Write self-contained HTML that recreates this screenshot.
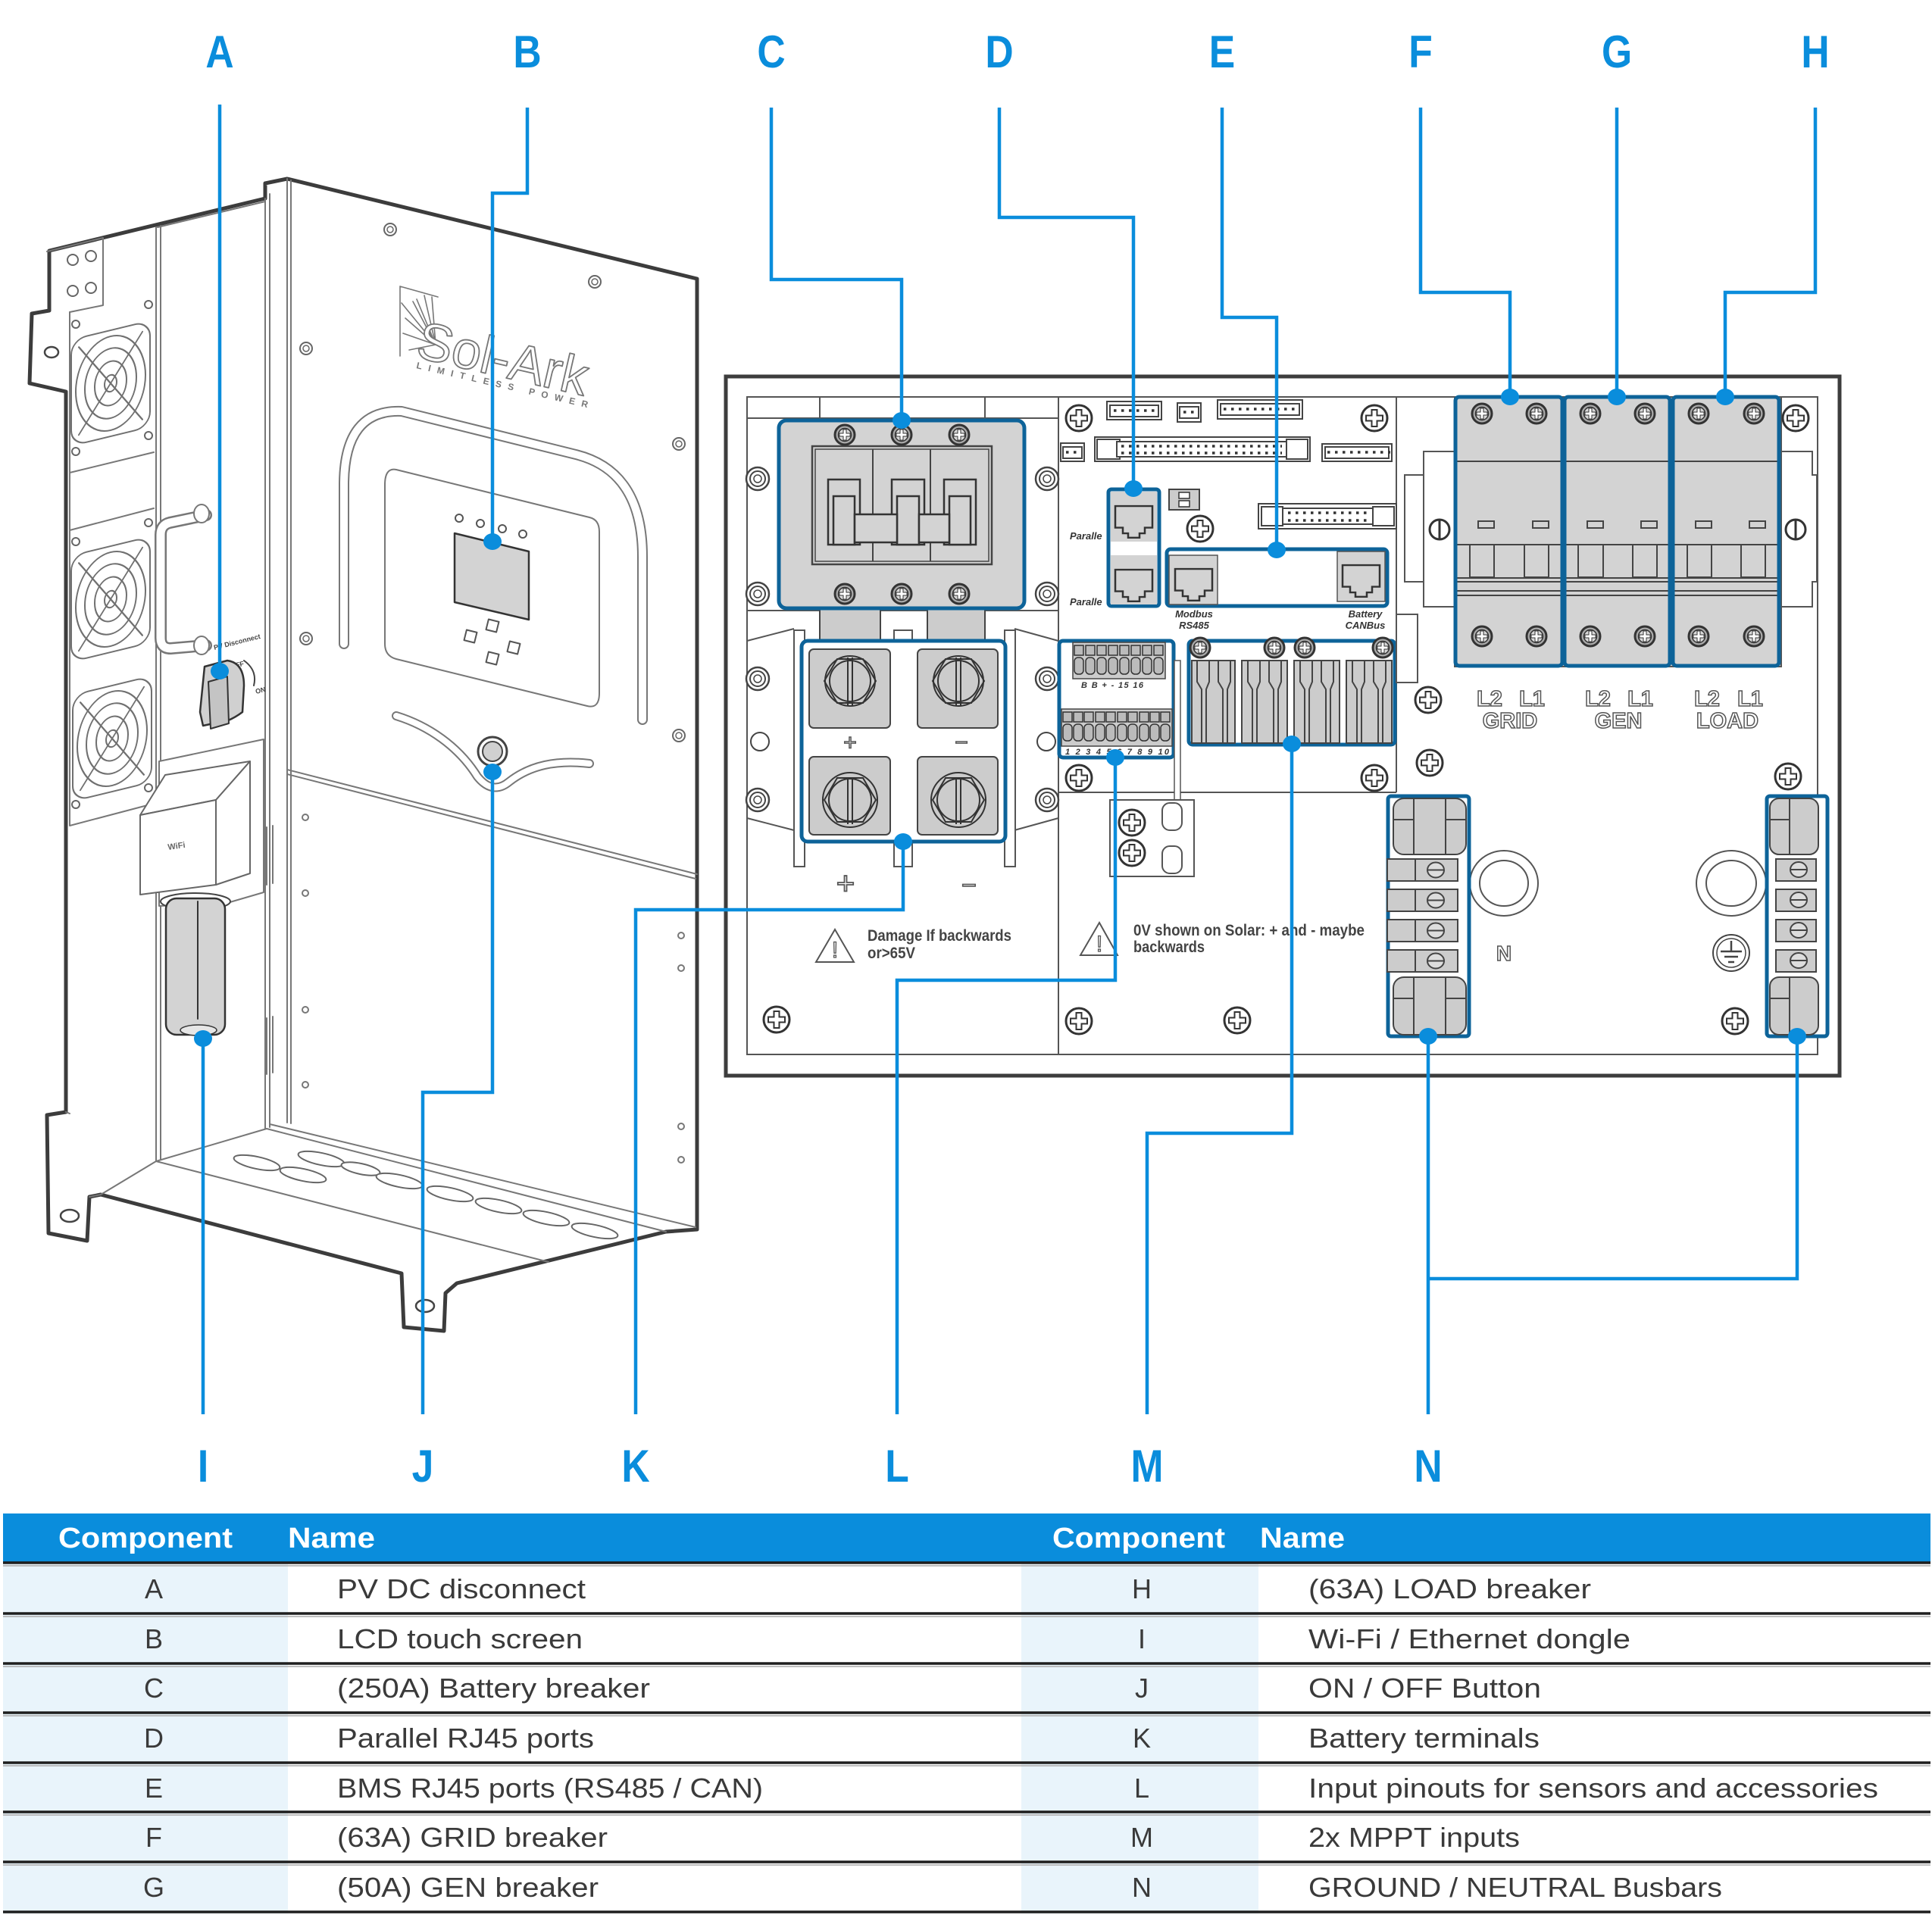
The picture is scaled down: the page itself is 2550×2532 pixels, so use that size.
<!DOCTYPE html>
<html><head><meta charset="utf-8"><style>
html,body{margin:0;padding:0;background:#fff}
svg{display:block}
text{font-family:"Liberation Sans",sans-serif}
</style></head><body>
<svg xmlns="http://www.w3.org/2000/svg" xmlns:xlink="http://www.w3.org/1999/xlink" width="2550" height="2532" viewBox="0 0 2550 2532">
<defs>
<g id="sc"><circle r="17" fill="#fff" stroke="#333" stroke-width="3"/><path d="M-3.5,-11h7v7.5h7.5v7h-7.5v7.5h-7v-7.5h-7.5v-7h7.5z" fill="#fff" stroke="#333" stroke-width="2"/></g>
<g id="bs"><circle r="13" fill="#aaa" stroke="#333" stroke-width="3"/><circle r="8.5" fill="#d8d8d8" stroke="#333" stroke-width="1.5"/><path d="M-2,-7h4v5h5v4h-5v5h-4v-5h-5v-4h5z" fill="#fff" stroke="#333" stroke-width="1"/></g>
<g id="nut"><circle r="15" fill="#fff" stroke="#444" stroke-width="2.5"/><circle r="10" fill="#fff" stroke="#444" stroke-width="2"/><circle r="5" fill="none" stroke="#444" stroke-width="1.5"/></g>
<g id="spot"><circle r="8" fill="#fff" stroke="#666" stroke-width="2"/><circle r="4" fill="none" stroke="#666" stroke-width="1.5"/></g>
<path id="rj" d="M6,20 H55 V50 H45 V58 H38 V64 H23 V58 H16 V50 H6 Z" fill="none" stroke="#333" stroke-width="2.5"/>
<g id="fan" fill="none" stroke="#707070" stroke-width="2">
 <rect x="-52" y="-70" width="104" height="140" rx="20"/>
 <ellipse rx="46" ry="62"/><ellipse rx="34" ry="46"/><ellipse rx="21" ry="29"/><ellipse rx="8" ry="11"/>
 <path d="M-42,-58 L42,58 M42,-58 L-42,58"/>
</g>
<g id="term">
 <rect x="0" y="0" width="43" height="29" fill="#ccc" stroke="#444" stroke-width="2"/>
 <rect x="37" y="0" width="56" height="29" fill="#ccc" stroke="#444" stroke-width="2"/>
 <ellipse cx="64" cy="14.5" rx="11" ry="10" fill="#ddd" stroke="#444" stroke-width="2"/>
 <path d="M53,14.5 H75" stroke="#444" stroke-width="2"/>
</g>
</defs>
<rect width="2550" height="2532" fill="#fff"/>

<!-- ================= INVERTER ================= -->
<g stroke-linejoin="round" stroke-linecap="round">
<path d="M379,236 L920,368 L920,1623 L879,1626 L603,1694 L588,1707 L586,1757 L533,1752 L530,1681 L133,1577 L118,1580 L115,1638 L64,1628 L62,1472 L87,1468 L87,517 L39,506 L42,414 L65,410 L65,331 L350,262 L350,242 Z" fill="#fff" stroke="#3c3c3c" stroke-width="5"/>
<g fill="none" stroke="#777" stroke-width="2">
 <path d="M379,236 L379,1482 M384,238 L384,1483 M350,262 L350,1490 M356,256 L356,1488"/>
 <path d="M379,1016 L920,1154 M379,1022 L918,1160"/>
 <path d="M352,1490 L879,1626 M356,1484 L918,1620"/>
 <path d="M206,1533 L724,1666 M133,1577 L206,1533 L352,1490"/>
 <path d="M206,300 L206,1533 M212,298 L212,1531 M208,300 L350,266"/>
 <path d="M92,412 L92,1090 L206,1060"/>
 <path d="M62,332 L136,314 L136,403 L92,412"/>
 <path d="M92,624 L203,597 M92,700 L203,671"/>
 <path d="M87,1468 L92,1470 M118,1580 L133,1577"/>
 <path d="M352,1092 V1168 M360,1090 V1166 M352,1344 V1418 M360,1342 V1416"/>
</g>
<!-- top small screws -->
<g fill="#fff" stroke="#666" stroke-width="2">
 <circle cx="96" cy="343" r="7"/><circle cx="120" cy="338" r="7"/><circle cx="96" cy="384" r="7"/><circle cx="120" cy="380" r="7"/>
</g>
<ellipse cx="68" cy="465" rx="9" ry="7" fill="#fff" stroke="#444" stroke-width="2.5"/>
<ellipse cx="92" cy="1605" rx="12" ry="8" fill="#fff" stroke="#444" stroke-width="2.5"/>
<ellipse cx="561" cy="1724" rx="12" ry="8" fill="#fff" stroke="#444" stroke-width="2.5"/>
<!-- fans -->
<use xlink:href="#fan" transform="translate(146,506) skewY(-13.6)"/>
<use xlink:href="#fan" transform="translate(146,791) skewY(-13.6)"/>
<use xlink:href="#fan" transform="translate(148,975) skewY(-13.6)"/>
<g fill="#fff" stroke="#666" stroke-width="2">
 <circle cx="100" cy="428" r="5"/><circle cx="196" cy="402" r="5"/><circle cx="100" cy="596" r="5"/><circle cx="196" cy="575" r="5"/>
 <circle cx="100" cy="715" r="5"/><circle cx="196" cy="690" r="5"/><circle cx="100" cy="1062" r="5"/><circle cx="196" cy="1040" r="5"/>
</g>
<!-- handle -->
<path d="M272,680 L224,690 Q212,693 212,706 L212,842 Q212,856 225,856 L272,852" fill="none" stroke="#777" stroke-width="16"/>
<path d="M272,680 L224,690 Q212,693 212,706 L212,842 Q212,856 225,856 L272,852" fill="none" stroke="#fff" stroke-width="11"/>
<ellipse cx="266" cy="678" rx="10" ry="12" fill="#fff" stroke="#777" stroke-width="2"/>
<ellipse cx="266" cy="852" rx="10" ry="12" fill="#fff" stroke="#777" stroke-width="2"/>
<!-- PV disconnect -->
<text x="0" y="0" font-size="9" font-weight="bold" fill="#444" transform="translate(283,858) rotate(-14)">PV Disconnect</text>
<text x="0" y="0" font-size="9" font-weight="bold" fill="#444" transform="translate(305,883) rotate(-14)">OFF</text>
<text x="0" y="0" font-size="9" font-weight="bold" fill="#444" transform="translate(338,916) rotate(-14)">ON</text>
<path d="M322,872 Q340,885 335,905" fill="none" stroke="#444" stroke-width="2"/>
<path d="M270,880 L300,872 Q322,875 322,905 L320,940 Q300,955 282,955 L268,958 L264,940 Z" fill="#d0d0d0" stroke="#333" stroke-width="2.5"/>
<path d="M275,900 L300,893 L302,955 L278,962 Z" fill="#c4c4c4" stroke="#333" stroke-width="2"/>
<!-- WiFi box -->
<path d="M210,1005 L348,976 L348,1178 L300,1192 L210,1196 Z" fill="#fff" stroke="#777" stroke-width="2"/>
<path d="M185,1076 L218,1023 L330,1005 L285,1056 Z" fill="#fff" stroke="#666" stroke-width="2"/>
<path d="M285,1056 L330,1005 L330,1153 L285,1168 Z" fill="#fff" stroke="#666" stroke-width="2"/>
<path d="M185,1076 L285,1056 L285,1168 L185,1181 Z" fill="#fff" stroke="#666" stroke-width="2"/>
<text x="0" y="0" font-size="11" font-weight="bold" fill="#666" transform="translate(222,1122) rotate(-8)">WiFi</text>
<ellipse cx="258" cy="1190" rx="46" ry="11" fill="#fff" stroke="#444" stroke-width="2"/>
<rect x="219" y="1186" width="78" height="180" rx="14" fill="#d3d3d3" stroke="#333" stroke-width="2.5"/>
<path d="M261,1190 V1345" stroke="#333" stroke-width="2"/>
<ellipse cx="262" cy="1360" rx="24" ry="7" fill="#e6e6e6" stroke="#333" stroke-width="1.5"/>
<!-- front face screws -->
<use xlink:href="#spot" x="515" y="303"/><use xlink:href="#spot" x="785" y="372"/>
<use xlink:href="#spot" x="404" y="460"/><use xlink:href="#spot" x="896" y="586"/>
<use xlink:href="#spot" x="404" y="843"/><use xlink:href="#spot" x="896" y="971"/>
<g fill="#fff" stroke="#777" stroke-width="2">
 <circle cx="403" cy="1079" r="4"/><circle cx="403" cy="1179" r="4"/><circle cx="403" cy="1333" r="4"/><circle cx="403" cy="1432" r="4"/>
 <circle cx="899" cy="1235" r="4"/><circle cx="899" cy="1278" r="4"/><circle cx="899" cy="1487" r="4"/><circle cx="899" cy="1531" r="4"/>
</g>
<!-- logo -->
<g stroke="#777" stroke-width="1.6" fill="none">
 <path d="M528,378 L528,470 M528,378 L578,392 M575,455 L530,400 M575,455 L535,420 M575,455 L532,440 M575,455 L540,462 M575,455 L550,395 M575,455 L560,390 M575,455 L570,392 M575,455 L545,398"/>
</g>
<text x="0" y="0" font-size="70" fill="#fff" stroke="#777" stroke-width="1.8" transform="translate(547,471) rotate(13)" textLength="229" lengthAdjust="spacingAndGlyphs">Sol-Ark</text>
<text x="0" y="0" font-size="12" font-weight="bold" fill="#777" transform="translate(549,486) rotate(13)" textLength="232" lengthAdjust="spacing">LIMITLESS POWER</text>
<!-- bezel -->
<path d="M454,850 L454,640 Q454,540 530,543 L760,600 Q848,622 848,735 L848,950" fill="none" stroke="#777" stroke-width="14"/>
<path d="M454,850 L454,640 Q454,540 530,543 L760,600 Q848,622 848,735 L848,950" fill="none" stroke="#fff" stroke-width="10"/>
<path d="M523,620 L778,683 Q791,686 791,702 L791,915 Q791,936 775,932 L523,870 Q508,866 508,850 L508,640 Q508,617 523,620 Z" fill="#fff" stroke="#777" stroke-width="2"/>
<path d="M600,704 L698,728 L698,818 L600,795 Z" fill="#d3d3d3" stroke="#333" stroke-width="2.5"/>
<g fill="#fff" stroke="#555" stroke-width="2">
 <circle cx="606" cy="684" r="5"/><circle cx="634" cy="691" r="5"/><circle cx="663" cy="698" r="5"/><circle cx="690" cy="705" r="5"/>
 <rect x="614" y="833" width="14" height="14" transform="rotate(14 621 840)"/>
 <rect x="643" y="819" width="14" height="14" transform="rotate(14 650 826)"/>
 <rect x="671" y="848" width="14" height="14" transform="rotate(14 678 855)"/>
 <rect x="643" y="862" width="14" height="14" transform="rotate(14 650 869)"/>
</g>
<!-- wave + button -->
<path d="M523,945 C565,958 605,985 630,1025 Q650,1050 672,1032 C700,1010 735,1003 778,1008" fill="none" stroke="#777" stroke-width="12"/>
<path d="M523,945 C565,958 605,985 630,1025 Q650,1050 672,1032 C700,1010 735,1003 778,1008" fill="none" stroke="#fff" stroke-width="8"/>
<circle cx="650" cy="992" r="19" fill="#fff" stroke="#444" stroke-width="3"/>
<circle cx="650" cy="992" r="13" fill="#d0d0d0" stroke="#444" stroke-width="2"/>
<!-- tray holes -->
<g fill="#fff" stroke="#666" stroke-width="2">
 <ellipse cx="339" cy="1535" rx="31" ry="8" transform="rotate(12 339 1535)"/>
 <ellipse cx="424" cy="1530" rx="31" ry="8" transform="rotate(12 424 1530)"/>
 <ellipse cx="400" cy="1551" rx="31" ry="8" transform="rotate(12 400 1551)"/>
 <ellipse cx="476" cy="1543" rx="26" ry="7" transform="rotate(12 476 1543)"/>
 <ellipse cx="527" cy="1559" rx="31" ry="8" transform="rotate(12 527 1559)"/>
 <ellipse cx="594" cy="1576" rx="31" ry="8" transform="rotate(12 594 1576)"/>
 <ellipse cx="658" cy="1592" rx="31" ry="8" transform="rotate(12 658 1592)"/>
 <ellipse cx="721" cy="1608" rx="31" ry="8" transform="rotate(12 721 1608)"/>
 <ellipse cx="785" cy="1625" rx="31" ry="8" transform="rotate(12 785 1625)"/>
</g>
</g>

<!-- ================= PANEL ================= -->
<rect x="958" y="497" width="1470" height="923" fill="#fff" stroke="#3d3d3d" stroke-width="5"/>
<rect x="986" y="524" width="1413" height="868" fill="none" stroke="#555" stroke-width="2"/>
<path d="M1397,524 V1392 M1843,524 V1046 M1397,1046 H1843 M986,552 H1397 M986,806 H1397" stroke="#555" stroke-width="2" fill="none"/>
<rect x="1082" y="524" width="218" height="28" fill="#fff" stroke="#555" stroke-width="2"/>

<!-- left section -->
<use xlink:href="#nut" x="1000" y="632"/><use xlink:href="#nut" x="1000" y="784"/>
<use xlink:href="#nut" x="1000" y="896"/><use xlink:href="#nut" x="1000" y="1056"/>
<use xlink:href="#nut" x="1382" y="632"/><use xlink:href="#nut" x="1382" y="784"/>
<use xlink:href="#nut" x="1382" y="896"/><use xlink:href="#nut" x="1382" y="1056"/>
<circle cx="1003" cy="979" r="12" fill="#fff" stroke="#444" stroke-width="2"/>
<circle cx="1381" cy="979" r="12" fill="#fff" stroke="#444" stroke-width="2"/>
<path d="M986,846 L1048,830 M1339,830 L1397,846 M986,1080 L1048,1096 M1339,1096 L1397,1080" stroke="#555" stroke-width="2" fill="none"/>
<rect x="1048" y="832" width="14" height="312" fill="#fff" stroke="#555" stroke-width="2"/>
<rect x="1326" y="832" width="14" height="312" fill="#fff" stroke="#555" stroke-width="2"/>
<rect x="1180" y="832" width="24" height="312" fill="#fff" stroke="#555" stroke-width="2"/>
<rect x="1082" y="803" width="80" height="60" fill="#ccc" stroke="#444" stroke-width="2"/>
<rect x="1224" y="803" width="76" height="60" fill="#ccc" stroke="#444" stroke-width="2"/>

<!-- C breaker -->
<rect x="1028" y="555" width="324" height="248" rx="10" fill="#d3d3d3" stroke="#0d6399" stroke-width="5"/>
<rect x="1072" y="589" width="237" height="156" fill="none" stroke="#444" stroke-width="2.5"/>
<rect x="1076" y="593" width="229" height="148" fill="none" stroke="#444" stroke-width="1.5"/>
<path d="M1152,593 V741 M1228,593 V741" stroke="#444" stroke-width="2"/>
<g fill="#d3d3d3" stroke="#333" stroke-width="2.5">
 <rect x="1093" y="633" width="42" height="86"/><rect x="1177" y="633" width="43" height="86"/><rect x="1246" y="633" width="42" height="86"/>
 <rect x="1100" y="655" width="28" height="64"/><rect x="1184" y="655" width="29" height="64"/><rect x="1253" y="655" width="28" height="64"/>
 <rect x="1128" y="679" width="56" height="37"/><rect x="1213" y="679" width="40" height="37"/>
</g>
<use xlink:href="#bs" x="1115" y="574"/><use xlink:href="#bs" x="1190" y="574"/><use xlink:href="#bs" x="1266" y="574"/>
<use xlink:href="#bs" x="1115" y="784"/><use xlink:href="#bs" x="1190" y="784"/><use xlink:href="#bs" x="1266" y="784"/>

<!-- K terminals -->
<rect x="1058" y="846" width="269" height="265" rx="8" fill="#fff" stroke="#0d6399" stroke-width="5"/>
<g fill="#ccc" stroke="#444" stroke-width="2">
 <rect x="1068" y="857" width="107" height="104" rx="6"/><rect x="1211" y="857" width="106" height="104" rx="6"/>
 <rect x="1068" y="999" width="107" height="103" rx="6"/><rect x="1211" y="999" width="106" height="103" rx="6"/>
</g>
<g fill="none" stroke="#333" stroke-width="2">
 <circle cx="1122" cy="899" r="33"/><circle cx="1122" cy="899" r="27"/><path d="M1105,870 L1139,870 L1156,899 L1139,928 L1105,928 L1088,899 Z"/><path d="M1119,868 V932 M1125,868 V932"/>
 <circle cx="1265" cy="899" r="33"/><circle cx="1265" cy="899" r="27"/><path d="M1248,870 L1282,870 L1299,899 L1282,928 L1248,928 L1231,899 Z"/><path d="M1262,868 V932 M1268,868 V932"/>
 <circle cx="1122" cy="1056" r="36"/><circle cx="1122" cy="1056" r="28"/><path d="M1105,1027 L1139,1027 L1156,1056 L1139,1085 L1105,1085 L1088,1056 Z"/><path d="M1119,1026 V1088 M1125,1026 V1088"/>
 <circle cx="1265" cy="1056" r="36"/><circle cx="1265" cy="1056" r="28"/><path d="M1248,1027 L1282,1027 L1299,1056 L1282,1085 L1248,1085 L1231,1056 Z"/><path d="M1262,1026 V1088 M1268,1026 V1088"/>
</g>
<text x="1122" y="990" font-size="30" text-anchor="middle" fill="#fff" stroke="#555" stroke-width="1.5">+</text>
<text x="1269" y="990" font-size="30" text-anchor="middle" fill="#fff" stroke="#555" stroke-width="1.5">−</text>
<text x="1116" y="1180" font-size="42" text-anchor="middle" fill="#fff" stroke="#555" stroke-width="1.8">+</text>
<text x="1279" y="1180" font-size="34" text-anchor="middle" fill="#fff" stroke="#555" stroke-width="1.6">−</text>
<path d="M1102,1227 L1127,1270 L1077,1270 Z" fill="#fff" stroke="#555" stroke-width="2"/>
<text x="1102" y="1264" font-size="30" text-anchor="middle" fill="#fff" stroke="#555" stroke-width="1.3">!</text>
<text x="1145" y="1242" font-size="21" font-weight="bold" fill="#444" textLength="190" lengthAdjust="spacingAndGlyphs">Damage If backwards</text>
<text x="1145" y="1265" font-size="21" font-weight="bold" fill="#444" textLength="63" lengthAdjust="spacingAndGlyphs">or&gt;65V</text>
<use xlink:href="#sc" x="1025" y="1346"/>

<!-- middle section -->
<use xlink:href="#sc" x="1424" y="552"/><use xlink:href="#sc" x="1814" y="552"/>
<use xlink:href="#sc" x="1424" y="1027"/><use xlink:href="#sc" x="1814" y="1027"/>
<use xlink:href="#sc" x="1424" y="1348"/><use xlink:href="#sc" x="1633" y="1347"/>
<use xlink:href="#sc" x="1584" y="698"/>
<g fill="#fff" stroke="#444" stroke-width="2">
 <rect x="1461" y="530" width="72" height="24"/><rect x="1465" y="535" width="64" height="15"/>
 <rect x="1554" y="532" width="31" height="25"/><rect x="1557" y="537" width="25" height="15"/>
 <rect x="1607" y="528" width="112" height="25"/><rect x="1611" y="533" width="104" height="15"/>
 <rect x="1400" y="585" width="31" height="24"/><rect x="1403" y="590" width="25" height="15"/>
 <rect x="1445" y="577" width="284" height="32"/><rect x="1448" y="580" width="30" height="26"/><rect x="1698" y="580" width="28" height="26"/><rect x="1474" y="583" width="224" height="20"/>
 <rect x="1745" y="586" width="92" height="23"/><rect x="1749" y="590" width="84" height="15"/>
 <rect x="1661" y="665" width="182" height="33"/><rect x="1665" y="669" width="28" height="25"/><rect x="1812" y="669" width="28" height="25"/><rect x="1693" y="671" width="119" height="21"/>
</g>
<g stroke="#333" stroke-width="3.5" stroke-dasharray="3.5 6.5" fill="none">
 <path d="M1470,542 H1530 M1562,544 H1580 M1615,540 H1715 M1407,597 H1427 M1752,597 H1835"/>
 <path d="M1480,589 H1692 M1480,598 H1692 M1700,677 H1810 M1700,687 H1810"/>
</g>
<rect x="1543" y="646" width="40" height="27" fill="#ccc" stroke="#444" stroke-width="2"/>
<rect x="1556" y="650" width="14" height="8" fill="#fff" stroke="#333" stroke-width="1.5"/>
<rect x="1556" y="661" width="14" height="8" fill="#fff" stroke="#333" stroke-width="1.5"/>
<!-- D -->
<rect x="1463" y="646" width="67" height="154" rx="4" fill="#fff" stroke="#0d6399" stroke-width="5"/>
<rect x="1466" y="649" width="61" height="66" fill="#d3d3d3"/>
<rect x="1466" y="733" width="61" height="65" fill="#d3d3d3"/>
<use xlink:href="#rj" transform="translate(1466,649) scale(1,0.95)"/>
<use xlink:href="#rj" transform="translate(1466,733) scale(1,0.95)"/>
<text x="1412" y="712" font-size="13" font-weight="bold" font-style="italic" fill="#333">Paralle</text>
<text x="1412" y="799" font-size="13" font-weight="bold" font-style="italic" fill="#333">Paralle</text>
<!-- E -->
<rect x="1540" y="725" width="291" height="75" rx="5" fill="#fff" stroke="#0d6399" stroke-width="5"/>
<rect x="1543" y="733" width="64" height="65" fill="#d3d3d3" stroke="#555" stroke-width="1.5"/>
<rect x="1765" y="728" width="63" height="66" fill="#d3d3d3" stroke="#555" stroke-width="1.5"/>
<use xlink:href="#rj" transform="translate(1545,732) scale(1,0.95)"/>
<use xlink:href="#rj" transform="translate(1766,727) scale(1,0.95)"/>
<text x="1576" y="815" font-size="13" font-weight="bold" font-style="italic" fill="#333" text-anchor="middle">Modbus</text>
<text x="1576" y="830" font-size="13" font-weight="bold" font-style="italic" fill="#333" text-anchor="middle">RS485</text>
<text x="1802" y="815" font-size="13" font-weight="bold" font-style="italic" fill="#333" text-anchor="middle">Battery</text>
<text x="1802" y="830" font-size="13" font-weight="bold" font-style="italic" fill="#333" text-anchor="middle">CANBus</text>
<!-- L -->
<rect x="1398" y="846" width="151" height="154" rx="5" fill="#fff" stroke="#0d6399" stroke-width="5"/>
<rect x="1416" y="848" width="122" height="48" fill="#ccc" stroke="#444" stroke-width="1.5"/>
<rect x="1401" y="936" width="146" height="49" fill="#ccc" stroke="#444" stroke-width="1.5"/>
<g fill="#bbb" stroke="#333" stroke-width="1.5">
 <rect x="1418" y="852" width="12" height="13"/><rect x="1433" y="852" width="12" height="13"/><rect x="1448" y="852" width="12" height="13"/><rect x="1463" y="852" width="12" height="13"/>
 <rect x="1478" y="852" width="12" height="13"/><rect x="1493" y="852" width="12" height="13"/><rect x="1508" y="852" width="12" height="13"/><rect x="1523" y="852" width="12" height="13"/>
 <rect x="1418" y="868" width="12" height="22" rx="5"/><rect x="1433" y="868" width="12" height="22" rx="5"/><rect x="1448" y="868" width="12" height="22" rx="5"/><rect x="1463" y="868" width="12" height="22" rx="5"/>
 <rect x="1478" y="868" width="12" height="22" rx="5"/><rect x="1493" y="868" width="12" height="22" rx="5"/><rect x="1508" y="868" width="12" height="22" rx="5"/><rect x="1523" y="868" width="12" height="22" rx="5"/>
 <rect x="1403" y="940" width="12" height="13"/><rect x="1417" y="940" width="12" height="13"/><rect x="1431" y="940" width="12" height="13"/><rect x="1446" y="940" width="12" height="13"/><rect x="1460" y="940" width="12" height="13"/>
 <rect x="1475" y="940" width="12" height="13"/><rect x="1489" y="940" width="12" height="13"/><rect x="1504" y="940" width="12" height="13"/><rect x="1518" y="940" width="12" height="13"/><rect x="1532" y="940" width="12" height="13"/>
 <rect x="1403" y="956" width="12" height="22" rx="5"/><rect x="1417" y="956" width="12" height="22" rx="5"/><rect x="1431" y="956" width="12" height="22" rx="5"/><rect x="1446" y="956" width="12" height="22" rx="5"/><rect x="1460" y="956" width="12" height="22" rx="5"/>
 <rect x="1475" y="956" width="12" height="22" rx="5"/><rect x="1489" y="956" width="12" height="22" rx="5"/><rect x="1504" y="956" width="12" height="22" rx="5"/><rect x="1518" y="956" width="12" height="22" rx="5"/><rect x="1532" y="956" width="12" height="22" rx="5"/>
</g>
<text x="1427" y="908" font-size="11" font-weight="bold" font-style="italic" fill="#333" textLength="82" lengthAdjust="spacing">B B + - 15 16</text>
<text x="1406" y="996" font-size="11" font-weight="bold" font-style="italic" fill="#333" textLength="137" lengthAdjust="spacing">1 2 3 4 5 6 7 8 9 10</text>
<rect x="1550" y="872" width="8" height="282" fill="#fff" stroke="#555" stroke-width="1.5"/>
<rect x="1465" y="1056" width="111" height="101" fill="#fff" stroke="#555" stroke-width="2"/>
<use xlink:href="#sc" x="1494" y="1086"/><use xlink:href="#sc" x="1494" y="1126"/>
<rect x="1534" y="1060" width="26" height="36" rx="10" fill="#fff" stroke="#555" stroke-width="2"/>
<rect x="1534" y="1117" width="26" height="36" rx="10" fill="#fff" stroke="#555" stroke-width="2"/>
<!-- M -->
<rect x="1569" y="846" width="272" height="137" rx="5" fill="#fff" stroke="#0d6399" stroke-width="5"/>
<g fill="#ccc" stroke="#444" stroke-width="2">
 <rect x="1573" y="872" width="57" height="109"/><rect x="1639" y="872" width="60" height="109"/><rect x="1708" y="872" width="60" height="109"/><rect x="1777" y="872" width="60" height="109"/>
</g>
<g fill="none" stroke="#444" stroke-width="2">
 <path d="M1580,872 V900 L1586,910 V981 M1596,872 V900 L1592,910 V981 M1608,872 V900 L1614,910 V981 M1624,872 V900 L1620,910 V981"/>
 <path d="M1647,872 V900 L1653,910 V981 M1663,872 V900 L1659,910 V981 M1675,872 V900 L1681,910 V981 M1691,872 V900 L1687,910 V981"/>
 <path d="M1716,872 V900 L1722,910 V981 M1732,872 V900 L1728,910 V981 M1744,872 V900 L1750,910 V981 M1760,872 V900 L1756,910 V981"/>
 <path d="M1785,872 V900 L1791,910 V981 M1801,872 V900 L1797,910 V981 M1813,872 V900 L1819,910 V981 M1829,872 V900 L1825,910 V981"/>
</g>
<use xlink:href="#bs" x="1584" y="855"/><use xlink:href="#bs" x="1682" y="855"/><use xlink:href="#bs" x="1722" y="855"/><use xlink:href="#bs" x="1825" y="855"/>
<path d="M1451,1218 L1475,1261 L1426,1261 Z" fill="#fff" stroke="#555" stroke-width="2"/>
<text x="1451" y="1256" font-size="30" text-anchor="middle" fill="#fff" stroke="#555" stroke-width="1.3">!</text>
<text x="1496" y="1235" font-size="21" font-weight="bold" fill="#444" textLength="305" lengthAdjust="spacingAndGlyphs">0V shown on Solar: + and - maybe</text>
<text x="1496" y="1257" font-size="21" font-weight="bold" fill="#444" textLength="94" lengthAdjust="spacingAndGlyphs">backwards</text>

<!-- right section -->
<rect x="1843" y="811" width="28" height="90" fill="#fff" stroke="#555" stroke-width="2"/>
<path d="M1854,627 H1879 V596 H1920 V801 H1879 V768 H1854 Z" fill="#fff" stroke="#555" stroke-width="2"/>
<path d="M1879,627 V768" stroke="#555" stroke-width="2"/>
<path d="M2351,596 H2392 V627 H2398 V768 H2392 V801 H2351 Z" fill="#fff" stroke="#555" stroke-width="2"/>
<circle cx="1900" cy="699" r="13" fill="#fff" stroke="#333" stroke-width="3"/><path d="M1900,686 V712" stroke="#333" stroke-width="3"/>
<circle cx="2370" cy="699" r="13" fill="#fff" stroke="#333" stroke-width="3"/><path d="M2370,686 V712" stroke="#333" stroke-width="3"/>
<rect x="1920" y="524" width="431" height="356" fill="#d3d3d3" stroke="#555" stroke-width="2"/>
<g fill="none" stroke="#444" stroke-width="2">
 <path d="M1921,609 H2348 M1921,719 H2348 M1921,763 H2348 M1921,768 H2348 M1921,780 H2348 M1921,786 H2348"/>
 <rect x="1951" y="688" width="21" height="9"/><rect x="2023" y="688" width="21" height="9"/>
 <rect x="2095" y="688" width="21" height="9"/><rect x="2166" y="688" width="21" height="9"/>
 <rect x="2238" y="688" width="21" height="9"/><rect x="2309" y="688" width="21" height="9"/>
 <rect x="1940" y="719" width="32" height="43"/><rect x="2012" y="719" width="32" height="43"/>
 <rect x="2083" y="719" width="33" height="43"/><rect x="2155" y="719" width="32" height="43"/>
 <rect x="2227" y="719" width="32" height="43"/><rect x="2298" y="719" width="32" height="43"/>
</g>
<g fill="none" stroke="#0d6399" stroke-width="5">
 <rect x="1921" y="524" width="141" height="355" rx="5"/>
 <rect x="2065" y="524" width="139" height="355" rx="5"/>
 <rect x="2208" y="524" width="140" height="355" rx="5"/>
</g>
<use xlink:href="#bs" x="1956" y="546"/><use xlink:href="#bs" x="2028" y="546"/>
<use xlink:href="#bs" x="2099" y="546"/><use xlink:href="#bs" x="2171" y="546"/>
<use xlink:href="#bs" x="2242" y="546"/><use xlink:href="#bs" x="2315" y="546"/>
<use xlink:href="#bs" x="1956" y="840"/><use xlink:href="#bs" x="2028" y="840"/>
<use xlink:href="#bs" x="2099" y="840"/><use xlink:href="#bs" x="2171" y="840"/>
<use xlink:href="#bs" x="2242" y="840"/><use xlink:href="#bs" x="2315" y="840"/>
<g font-size="29" font-weight="bold" fill="#fff" stroke="#555" stroke-width="1.5" text-anchor="middle">
 <text x="1966" y="932">L2</text><text x="2022" y="932">L1</text><text x="1993" y="961">GRID</text>
 <text x="2109" y="932">L2</text><text x="2165" y="932">L1</text><text x="2136" y="961">GEN</text>
 <text x="2253" y="932">L2</text><text x="2310" y="932">L1</text><text x="2280" y="961">LOAD</text>
 <text x="1985" y="1268" font-size="28">N</text>
</g>
<use xlink:href="#sc" x="1885" y="924"/><use xlink:href="#sc" x="1887" y="1007"/>
<use xlink:href="#sc" x="2370" y="552"/><use xlink:href="#sc" x="2360" y="1025"/><use xlink:href="#sc" x="2290" y="1348"/>
<ellipse cx="1985" cy="1166" rx="45" ry="43" fill="#fff" stroke="#555" stroke-width="2"/>
<ellipse cx="1985" cy="1166" rx="32" ry="30" fill="#fff" stroke="#555" stroke-width="2"/>
<ellipse cx="2285" cy="1166" rx="46" ry="43" fill="#fff" stroke="#555" stroke-width="2"/>
<ellipse cx="2285" cy="1166" rx="33" ry="30" fill="#fff" stroke="#555" stroke-width="2"/>
<circle cx="2285" cy="1258" r="24" fill="#fff" stroke="#444" stroke-width="2"/>
<circle cx="2285" cy="1258" r="19" fill="none" stroke="#444" stroke-width="1.5"/>
<path d="M2285,1242 V1255 M2271,1256 H2299 M2276,1263 H2294 M2281,1270 H2289" stroke="#444" stroke-width="2.5"/>
<!-- busbars -->
<rect x="1832" y="1051" width="107" height="317" rx="4" fill="#fff" stroke="#0d6399" stroke-width="5"/>
<rect x="1839" y="1054" width="96" height="74" rx="14" fill="#ccc" stroke="#444" stroke-width="2"/>
<rect x="1839" y="1290" width="96" height="76" rx="14" fill="#ccc" stroke="#444" stroke-width="2"/>
<path d="M1866,1054 V1128 M1908,1054 V1128 M1866,1290 V1366 M1908,1290 V1366 M1839,1082 H1866 M1908,1082 H1935 M1839,1318 H1866 M1908,1318 H1935" stroke="#444" stroke-width="2" fill="none"/>
<use xlink:href="#term" x="1831" y="1134"/><use xlink:href="#term" x="1831" y="1174"/>
<use xlink:href="#term" x="1831" y="1214"/><use xlink:href="#term" x="1831" y="1254"/>
<rect x="2332" y="1051" width="80" height="317" rx="4" fill="#fff" stroke="#0d6399" stroke-width="5"/>
<rect x="2336" y="1054" width="64" height="74" rx="12" fill="#ccc" stroke="#444" stroke-width="2"/>
<rect x="2336" y="1290" width="64" height="76" rx="12" fill="#ccc" stroke="#444" stroke-width="2"/>
<path d="M2362,1054 V1128 M2362,1290 V1366 M2336,1082 H2362 M2336,1318 H2362" stroke="#444" stroke-width="2" fill="none"/>
<g fill="#ccc" stroke="#444" stroke-width="2">
 <rect x="2344" y="1134" width="53" height="29"/><rect x="2344" y="1174" width="53" height="29"/>
 <rect x="2344" y="1214" width="53" height="29"/><rect x="2344" y="1254" width="53" height="29"/>
</g>
<g fill="#ddd" stroke="#444" stroke-width="2">
 <ellipse cx="2374" cy="1148" rx="11" ry="10"/><ellipse cx="2374" cy="1188" rx="11" ry="10"/>
 <ellipse cx="2374" cy="1228" rx="11" ry="10"/><ellipse cx="2374" cy="1268" rx="11" ry="10"/>
</g>
<path d="M2363,1148 H2385 M2363,1188 H2385 M2363,1228 H2385 M2363,1268 H2385" stroke="#444" stroke-width="2"/>

<!-- ================= LEADERS ================= -->
<g fill="none" stroke="#0a8ddc" stroke-width="4.5" stroke-linejoin="miter">
 <path d="M290,138 V886"/>
 <path d="M696,142 V255 H650 V715"/>
 <path d="M1018,142 V369 H1190 V555"/>
 <path d="M1319,142 V287 H1496 V645"/>
 <path d="M1613,142 V419 H1685 V726"/>
 <path d="M1875,142 V386 H1993 V524"/>
 <path d="M2134,142 V524"/>
 <path d="M2396,142 V386 H2277 V524"/>
 <path d="M268,1371 V1867"/>
 <path d="M650,1019 V1442 H558 V1867"/>
 <path d="M1192,1111 V1201 H839 V1867"/>
 <path d="M1472,1000 V1294 H1184 V1867"/>
 <path d="M1705,982 V1496 H1514 V1867"/>
 <path d="M1885,1368 V1867 M1885,1688 H2372 V1368"/>
</g>
<g fill="#0a8ddc">
 <ellipse cx="290" cy="886" rx="12" ry="11"/><ellipse cx="650" cy="715" rx="12" ry="11"/>
 <ellipse cx="1190" cy="555" rx="12" ry="11"/><ellipse cx="1496" cy="645" rx="12" ry="11"/>
 <ellipse cx="1685" cy="726" rx="12" ry="11"/><ellipse cx="1993" cy="524" rx="12" ry="11"/>
 <ellipse cx="2134" cy="524" rx="12" ry="11"/><ellipse cx="2277" cy="524" rx="12" ry="11"/>
 <ellipse cx="268" cy="1371" rx="12" ry="11"/><ellipse cx="650" cy="1019" rx="12" ry="11"/>
 <ellipse cx="1192" cy="1111" rx="12" ry="11"/><ellipse cx="1472" cy="1000" rx="12" ry="11"/>
 <ellipse cx="1705" cy="982" rx="12" ry="11"/><ellipse cx="1885" cy="1368" rx="12" ry="11"/>
 <ellipse cx="2372" cy="1368" rx="12" ry="11"/>
</g>
<g font-size="60" font-weight="bold" fill="#0a8ddc" text-anchor="middle">
 <text transform="translate(290,89) scale(0.86,1)">A</text>
 <text transform="translate(696,89) scale(0.86,1)">B</text>
 <text transform="translate(1018,89) scale(0.86,1)">C</text>
 <text transform="translate(1319,89) scale(0.86,1)">D</text>
 <text transform="translate(1613,89) scale(0.86,1)">E</text>
 <text transform="translate(1875,89) scale(0.86,1)">F</text>
 <text transform="translate(2134,89) scale(0.86,1)">G</text>
 <text transform="translate(2396,89) scale(0.86,1)">H</text>
 <text transform="translate(268,1956) scale(0.86,1)">I</text>
 <text transform="translate(558,1956) scale(0.86,1)">J</text>
 <text transform="translate(839,1956) scale(0.86,1)">K</text>
 <text transform="translate(1184,1956) scale(0.86,1)">L</text>
 <text transform="translate(1514,1956) scale(0.86,1)">M</text>
 <text transform="translate(1885,1956) scale(0.86,1)">N</text>
</g>

<!-- ================= TABLE ================= -->
<rect x="4" y="1998" width="2544" height="64" fill="#0a8ddc"/>
<rect x="4" y="2064" width="376" height="462" fill="#e9f4fb"/>
<rect x="1348" y="2064" width="313" height="462" fill="#e9f4fb"/>
<g stroke="#1e1e1e" stroke-width="3.5">
 <path d="M4,2063 H2548 M4,2130 H2548 M4,2196 H2548 M4,2261 H2548 M4,2327 H2548 M4,2392 H2548 M4,2458 H2548 M4,2524 H2548"/>
</g>
<g stroke="#aaa" stroke-width="1.5">
 <path d="M4,2067 H2548 M4,2134 H2548 M4,2200 H2548 M4,2265 H2548 M4,2331 H2548 M4,2396 H2548 M4,2462 H2548"/>
</g>
<g font-size="38" font-weight="bold" fill="#fff">
 <text x="77" y="2043" textLength="230" lengthAdjust="spacingAndGlyphs">Component</text>
 <text x="380" y="2043" textLength="115" lengthAdjust="spacingAndGlyphs">Name</text>
 <text x="1389" y="2043" textLength="228" lengthAdjust="spacingAndGlyphs">Component</text>
 <text x="1663" y="2043" textLength="112" lengthAdjust="spacingAndGlyphs">Name</text>
</g>
<g font-size="36" fill="#3a3a3a" text-anchor="middle">
 <text x="203" y="2110">A</text><text x="203" y="2176">B</text><text x="203" y="2241">C</text><text x="203" y="2307">D</text>
 <text x="203" y="2373">E</text><text x="203" y="2438">F</text><text x="203" y="2504">G</text>
 <text x="1507" y="2110">H</text><text x="1507" y="2176">I</text><text x="1507" y="2241">J</text><text x="1507" y="2307">K</text>
 <text x="1507" y="2373">L</text><text x="1507" y="2438">M</text><text x="1507" y="2504">N</text>
</g>
<g font-size="36" fill="#3a3a3a" lengthAdjust="spacingAndGlyphs">
 <text x="445" y="2110" textLength="328" lengthAdjust="spacingAndGlyphs">PV DC disconnect</text>
 <text x="445" y="2176" textLength="324" lengthAdjust="spacingAndGlyphs">LCD touch screen</text>
 <text x="445" y="2241" textLength="413" lengthAdjust="spacingAndGlyphs">(250A) Battery breaker</text>
 <text x="445" y="2307" textLength="339" lengthAdjust="spacingAndGlyphs">Parallel RJ45 ports</text>
 <text x="445" y="2373" textLength="562" lengthAdjust="spacingAndGlyphs">BMS RJ45 ports (RS485 / CAN)</text>
 <text x="445" y="2438" textLength="357" lengthAdjust="spacingAndGlyphs">(63A) GRID breaker</text>
 <text x="445" y="2504" textLength="345" lengthAdjust="spacingAndGlyphs">(50A) GEN breaker</text>
 <text x="1727" y="2110" textLength="373" lengthAdjust="spacingAndGlyphs">(63A) LOAD breaker</text>
 <text x="1727" y="2176" textLength="425" lengthAdjust="spacingAndGlyphs">Wi-Fi / Ethernet dongle</text>
 <text x="1727" y="2241" textLength="307" lengthAdjust="spacingAndGlyphs">ON / OFF Button</text>
 <text x="1727" y="2307" textLength="305" lengthAdjust="spacingAndGlyphs">Battery terminals</text>
 <text x="1727" y="2373" textLength="752" lengthAdjust="spacingAndGlyphs">Input pinouts for sensors and accessories</text>
 <text x="1727" y="2438" textLength="279" lengthAdjust="spacingAndGlyphs">2x MPPT inputs</text>
 <text x="1727" y="2504" textLength="546" lengthAdjust="spacingAndGlyphs">GROUND / NEUTRAL Busbars</text>
</g>
</svg>
</body></html>
